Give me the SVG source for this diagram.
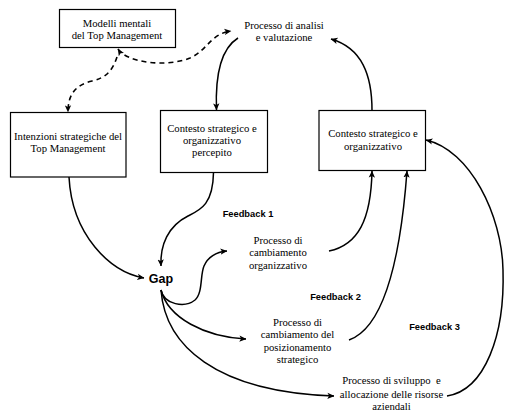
<svg xmlns="http://www.w3.org/2000/svg" width="506" height="411" viewBox="0 0 506 411">
<style>
.box{fill:#fff;stroke:#000;stroke-width:1.2}
.t{font-family:'Liberation Serif','Times New Roman',Times,serif;font-size:10.7px;fill:#000;text-anchor:middle}
.b{font-family:'Liberation Sans',Arial,sans-serif;font-weight:bold;fill:#000;text-anchor:middle}
.c{fill:none;stroke:#000;stroke-width:1.5}
.d{fill:none;stroke:#000;stroke-width:1.6;stroke-dasharray:5,4}
</style>
<defs>
<marker id="ah" viewBox="0 0 10 10" refX="9.5" refY="5" markerWidth="7" markerHeight="7" markerUnits="userSpaceOnUse" orient="auto-start-reverse">
<path d="M0,0.5 L10,5 L0,9.5 L2.5,5 z" fill="#000"/>
</marker>
</defs>
<rect width="506" height="411" fill="#fff"/>
<g id="modelli">
<rect class="box" x="59.5" y="9.5" width="116" height="38"/>
<text class="t" font-family="Liberation Serif, serif" x="117" y="27">Modelli mentali</text>
<text class="t" font-family="Liberation Serif, serif" x="117" y="38.5">del Top Management</text>
</g>
<g id="analisi">
<text class="t" font-family="Liberation Serif, serif" x="284" y="28.5">Processo di analisi</text>
<text class="t" font-family="Liberation Serif, serif" x="284" y="41">e valutazione</text>
</g>
<g id="intenzioni">
<rect class="box" x="10.5" y="112.5" width="115.5" height="64.5"/>
<text class="t" font-family="Liberation Serif, serif" x="68" y="139.5">Intenzioni strategiche del</text>
<text class="t" font-family="Liberation Serif, serif" x="68" y="151.5">Top Management</text>
</g>
<g id="percepito">
<rect class="box" x="160.5" y="110.5" width="107" height="62"/>
<text class="t" font-family="Liberation Serif, serif" x="212" y="132">Contesto strategico e</text>
<text class="t" font-family="Liberation Serif, serif" x="212" y="144">organizzativo</text>
<text class="t" font-family="Liberation Serif, serif" x="212" y="156">percepito</text>
</g>
<g id="contesto">
<rect class="box" x="319" y="110.5" width="106.5" height="60"/>
<text class="t" font-family="Liberation Serif, serif" x="373" y="137">Contesto strategico e</text>
<text class="t" font-family="Liberation Serif, serif" x="373" y="150">organizzativo</text>
</g>
<g id="gap">
<text class="b" x="161" y="282.5" font-size="12.5">Gap</text>
</g>
<g id="fb1"><text class="b" x="248" y="216.5" font-size="9.3">Feedback 1</text></g>
<g id="fb2"><text class="b" x="335.5" y="300" font-size="9.3">Feedback 2</text></g>
<g id="fb3"><text class="b" x="434.5" y="330" font-size="9.3">Feedback 3</text></g>
<g id="organizzativo">
<text class="t" font-family="Liberation Serif, serif" x="278" y="243.5">Processo di</text>
<text class="t" font-family="Liberation Serif, serif" x="278" y="256">cambiamento</text>
<text class="t" font-family="Liberation Serif, serif" x="278" y="268.5">organizzativo</text>
</g>
<g id="posizionamento">
<text class="t" font-family="Liberation Serif, serif" x="297.5" y="325.5">Processo di</text>
<text class="t" font-family="Liberation Serif, serif" x="297.5" y="338">cambiamento del</text>
<text class="t" font-family="Liberation Serif, serif" x="297.5" y="350.5">posizionamento</text>
<text class="t" font-family="Liberation Serif, serif" x="297.5" y="363">strategico</text>
</g>
<g id="sviluppo">
<text class="t" font-family="Liberation Serif, serif" x="391.5" y="384" xml:space="preserve">Processo di sviluppo  e</text>
<text class="t" font-family="Liberation Serif, serif" x="391.5" y="397.5">allocazione delle risorse</text>
<text class="t" font-family="Liberation Serif, serif" x="391.5" y="410">aziendali</text>
</g>
<g id="connectors">
<path class="d" d="M118,49 C126,62 165,68 190,58 C208,50 210,34 231,31" marker-start="url(#ah)" marker-end="url(#ah)"/>
<path class="d" d="M117,57 C112,72 105,78 92,81 C75,85 68,95 68,112" marker-end="url(#ah)"/>
<path class="c" d="M238,38 C222,48 215,72 216.5,110" marker-end="url(#ah)"/>
<path class="c" d="M372,110.5 C372,75 362,48 331,39" marker-end="url(#ah)"/>
<path class="c" d="M69,177 C72,235 110,272 144,278" marker-end="url(#ah)"/>
<path class="c" d="M213.5,172.5 C213,205 200,210 188,216 C168,226 160,245 161,266" marker-end="url(#ah)"/>
<path class="c" d="M161,290 C164,305 185,308 195,300 C203,293 200,275 204,266 C208,257 216,252 227,251" marker-end="url(#ah)"/>
<path class="c" d="M161,290 C168,318 205,337 246,339" marker-end="url(#ah)"/>
<path class="c" d="M161,290 C165,345 215,392 334,396" marker-end="url(#ah)"/>
<path class="c" d="M329,251 C358,245 371,220 372,171" marker-end="url(#ah)"/>
<path class="c" d="M349,340 C383,328 400,265 407,171" marker-end="url(#ah)"/>
<path class="c" d="M447,396 C485,390 505,335 503,270 C502,215 470,150 426,140" marker-end="url(#ah)"/>
</g>
</svg>
